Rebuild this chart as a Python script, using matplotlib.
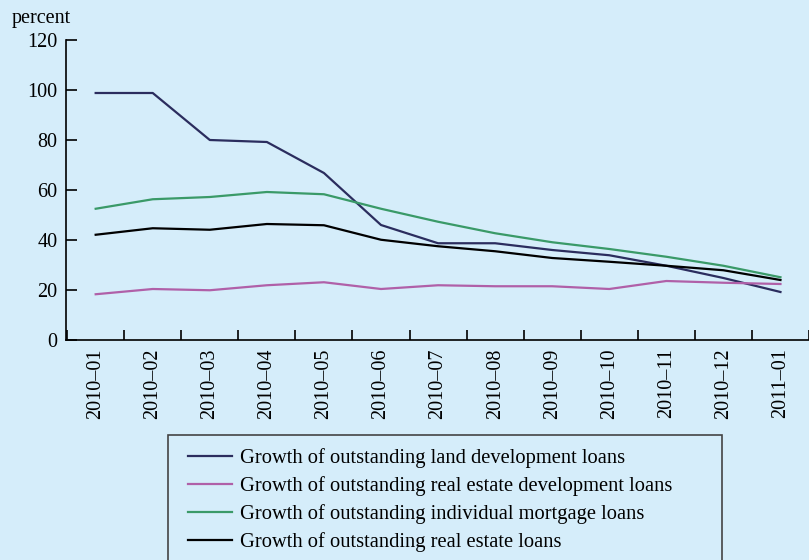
import matplotlib
matplotlib.use("Agg")
import matplotlib.pyplot as plt
from matplotlib.patches import Rectangle

plt.rcParams['font.family'] = ['Liberation Serif', 'DejaVu Serif']

months = ['2010–01', '2010–02', '2010–03', '2010–04', '2010–05', '2010–06', '2010–07',
          '2010–08', '2010–09', '2010–10', '2010–11', '2010–12', '2011–01']
land_dev = [98.8, 98.8, 80.0, 79.2, 66.8, 46.0, 38.7, 38.7, 36.0, 33.9, 29.7, 24.8, 19.2]
re_dev = [18.3, 20.4, 19.9, 21.9, 23.1, 20.4, 21.9, 21.5, 21.5, 20.4, 23.6, 22.9, 22.4]
mortgage = [52.5, 56.3, 57.2, 59.2, 58.3, 52.5, 47.3, 42.7, 39.1, 36.4, 33.3, 29.7, 25.1]
re_loans = [42.1, 44.7, 44.1, 46.4, 45.9, 40.1, 37.5, 35.5, 32.8, 31.3, 29.7, 27.9, 24.0]

bg = '#d5edfa'
fig = plt.figure(figsize=(8.09, 5.6), dpi=100, facecolor=bg)
ax = fig.add_axes([66/809, 220/560, 1 - 66/809, 300/560])
ax.set_facecolor(bg)

x = range(len(months))
ax.plot(x, land_dev, color='#2b2d5e', lw=1.6, label='Growth of outstanding land development loans')
ax.plot(x, re_dev, color='#b060a8', lw=1.6, label='Growth of outstanding real estate development loans')
ax.plot(x, mortgage, color='#3a9a68', lw=1.6, label='Growth of outstanding individual mortgage loans')
ax.plot(x, re_loans, color='black', lw=1.6, label='Growth of outstanding real estate loans')

ax.set_ylim(0, 120)
ax.set_xlim(-0.52, 12.33)
ax.set_yticks([0, 20, 40, 60, 80, 100, 120])
ax.set_xticks(list(x))
ax.set_xticklabels(months, rotation=90, fontsize=14.5)
ax.set_xticks([i + 0.5 for i in range(-1, 13)], minor=True)
ax.tick_params(axis='x', which='major', length=0, pad=6)
ax.tick_params(axis='x', which='minor', direction='in', length=7, width=1.2)
ax.tick_params(axis='y', direction='in', length=8, width=1.2, labelsize=14.5, pad=6)
for s in ['top', 'right']:
    ax.spines[s].set_visible(False)
for s in ['left', 'bottom']:
    ax.spines[s].set_linewidth(1.2)

fig.text(12/809, 1 - 18/560, 'percent', fontsize=14.5, va='center', ha='left')

# legend box runs off the bottom edge of the figure
fig.patches.append(Rectangle((168/809, -0.05), 554/809, 1 - 435/560 + 0.05,
                             transform=fig.transFigure, facecolor=bg,
                             edgecolor='#444444', linewidth=1.2, zorder=0))
leg = fig.legend(loc='upper left', bbox_to_anchor=(188/809, 1 - 448/560),
                 fontsize=14.8, frameon=False,
                 handlelength=2.15, handletextpad=0.4, labelspacing=0.4,
                 borderpad=0, borderaxespad=0)

fig.savefig('out.png', dpi=100, facecolor=bg)
